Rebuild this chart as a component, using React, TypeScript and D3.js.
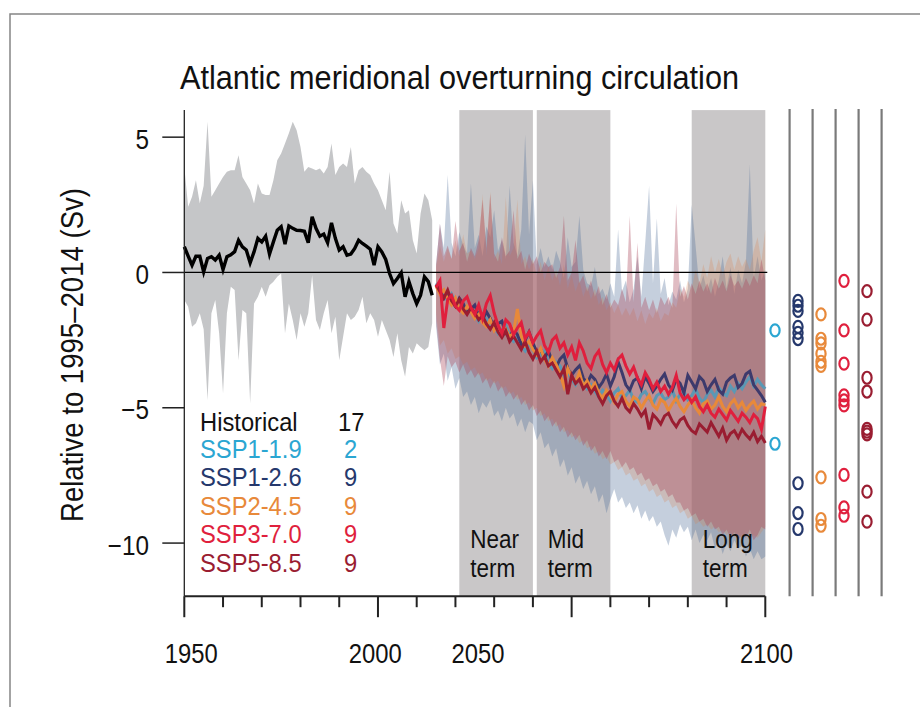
import React from 'react';
import * as d3 from 'd3';

// ---------- DATA ----------
const histStart = 1950;
const projStart = 2015;

const histMean = [
  0.95, 0.60, 0.27, 0.60, 0.60, 0.02, 0.52, 0.58, 0.46, 0.64,
  0.11, 0.58, 0.65, 0.77, 1.19, 0.95, 0.83, 0.36, 0.76, 1.26,
  1.13, 1.34, 0.68, 1.13, 1.56, 1.69, 1.05, 1.72, 1.63, 1.56,
  1.55, 1.52, 1.10, 2.06, 1.63, 1.34, 1.42, 1.10, 1.83, 1.26,
  0.83, 0.95, 0.64, 0.68, 0.89, 1.19, 1.07, 0.97, 0.86, 0.27,
  0.95, 0.76, 0.48, -0.04, -0.41, -0.22, -0.01, -0.90, -0.34, -0.78,
  -1.15, -0.84, -0.16, -0.34, -0.84,
];
const histUpper = [
  3.90, 2.43, 2.80, 3.41, 2.55, 3.20, 5.57, 2.80, 3.04, 3.29,
  3.53, 3.72, 3.78, 3.78, 4.33, 3.53, 3.29, 3.04, 2.55, 3.29,
  2.92, 2.86, 2.86, 3.41, 4.15, 4.40, 4.77, 5.14, 5.57, 5.26,
  4.64, 3.72, 3.90, 3.84, 3.78, 3.84, 3.66, 3.90, 4.77, 3.60,
  3.90, 4.03, 3.90, 4.64, 3.29, 3.78, 3.90, 3.72, 3.60, 3.29,
  3.04, 2.67, 2.30, 3.72, 1.81, 1.44, 2.67, 2.18, 2.30, 1.19,
  0.70, 2.18, 2.92, 2.67, 1.93,
];
const histLower = [
  -1.02, -1.27, -2.01, -1.88, -1.51, -2.10, -4.72, -1.51, -1.02, -2.25,
  -4.47, -1.51, -0.53, -0.65, -3.24, -1.39, -1.51, -4.84, -1.15, -0.90,
  -0.53, -0.90, -0.47, -0.34, -0.16, -0.04, -2.25, -1.15, -1.76, -2.50,
  -1.51, -2.01, -1.51, -0.10, -1.76, -2.13, -1.51, -1.02, -2.25, -1.64,
  -3.24, -2.38, -1.51, -1.76, -1.64, -1.39, -0.90, -1.88, -1.51, -1.76,
  -2.38, -1.76, -2.13, -2.50, -3.12, -2.25, -3.24, -3.85, -2.75, -2.99,
  -2.62, -2.75, -2.87, -2.75, -1.88,
];

const ssp119 = [
  -0.40, -0.55, -0.85, -1.05, -0.80, -1.10, -1.30, -1.20, -1.45, -1.30,
  -1.55, -1.80, -1.60, -1.70, -2.05, -1.95, -2.25, -2.10, -1.95, -2.40,
  -2.55, -2.35, -2.70, -2.90, -2.65, -2.85, -3.15, -3.05, -2.90, -3.35,
  -3.55, -3.30, -3.45, -3.80, -3.65, -3.95, -4.15, -3.85, -4.05, -4.30,
  -4.15, -4.40, -4.60, -4.35, -4.50, -4.75, -4.45, -4.30, -4.65, -4.55,
  -4.35, -4.70, -4.80, -4.50, -4.40, -4.65, -4.85, -4.55, -4.45, -4.70,
  -4.60, -4.35, -4.75, -4.50, -4.40, -4.70, -4.55, -4.30, -4.65, -4.80,
  -4.50, -4.35, -4.60, -4.25, -4.45, -4.55, -4.20, -4.40, -4.10, -4.30,
  -4.05, -3.85, -4.20, -3.95, -4.15, -4.30,
];
const ssp126 = [
  -0.45, -0.70, -0.95, -0.75, -1.05, -1.25, -0.95, -1.15, -1.50, -1.35,
  -1.20, -1.60, -1.75, -1.45, -1.70, -2.05, -1.90, -1.80, -2.25, -2.40,
  -2.10, -2.30, -2.65, -2.50, -2.20, -2.60, -2.95, -2.85, -3.15, -2.90,
  -3.30, -3.50, -3.20, -3.05, -3.55, -3.80, -3.60, -3.45, -3.90, -4.10,
  -3.80, -3.95, -4.25, -4.05, -3.75, -4.20, -3.85, -3.30, -3.70, -4.15,
  -4.35, -4.00, -3.90, -4.30, -3.85, -4.10, -4.40, -4.20, -3.95, -3.75,
  -4.15, -4.35, -3.95, -4.10, -4.45, -3.80, -4.05, -4.30, -3.85, -4.00,
  -4.40, -4.15, -3.95, -4.35, -4.50, -4.05, -3.90, -3.80, -4.25, -4.10,
  -3.75, -3.65, -4.15, -4.35, -4.55, -4.80,
];
const ssp245 = [
  -0.50, -0.80, -0.65, -1.00, -1.20, -0.95, -1.35, -1.50, -1.25, -1.45,
  -1.70, -1.55, -1.85, -2.00, -1.75, -2.15, -1.95, -2.30, -2.10, -2.40,
  -2.20, -1.35, -2.35, -2.70, -2.55, -2.85, -3.05, -2.80, -3.20, -3.45,
  -3.15, -3.40, -3.75, -4.20, -3.55, -3.85, -4.05, -3.70, -4.20, -4.00,
  -4.30, -4.10, -4.45, -4.65, -4.35, -4.55, -4.80, -4.50, -4.40, -4.75,
  -4.95, -4.60, -4.70, -5.00, -4.75, -4.55, -4.90, -5.05, -4.70, -4.80,
  -5.10, -4.85, -4.65, -4.95, -5.15, -4.90, -4.70, -5.00, -5.20, -4.85,
  -4.75, -5.05, -4.90, -4.60, -4.95, -5.15, -4.85, -4.70, -5.00, -4.80,
  -5.10, -4.90, -4.75, -5.05, -4.85, -4.90,
];
const ssp370 = [
  -0.55, -0.30, -2.05, -1.00, -0.85, -1.25, -1.40, -1.05, -0.90, -1.30,
  -1.55, -1.20, -1.70, -1.15, -0.85, -1.50, -1.95, -2.25, -1.75, -1.90,
  -2.30, -2.05, -1.85, -2.45, -2.20, -2.60, -2.35, -2.15, -2.70, -2.95,
  -2.50, -2.35, -2.80, -2.60, -3.05, -2.75, -3.25, -2.60, -2.90, -3.35,
  -3.55, -3.10, -2.90, -3.40, -3.70, -3.35, -3.60, -3.20, -3.05, -3.45,
  -3.75, -3.50, -3.90, -4.15, -3.70, -3.95, -4.30, -4.05, -4.40, -4.20,
  -4.50, -4.25, -3.80, -4.45, -4.70, -4.55, -4.80, -4.60, -4.95, -5.15,
  -4.90, -5.20, -5.35, -5.05, -5.25, -5.45, -5.10, -5.30, -5.50, -5.20,
  -5.35, -5.55, -5.25, -5.40, -5.80, -4.95,
];
const ssp585 = [
  -0.45, -0.70, -0.95, -0.65, -1.05, -1.25, -1.00, -1.35, -1.55, -1.30,
  -1.50, -1.75, -1.60, -1.90, -2.10, -1.85, -2.20, -2.40, -2.15, -2.55,
  -2.35, -2.60, -2.85, -2.55, -2.95, -3.20, -2.90, -3.30, -3.10, -3.45,
  -3.35, -3.60, -3.85, -3.55, -4.50, -3.80, -4.10, -3.95, -4.30, -4.15,
  -4.45, -4.25, -4.60, -4.85, -4.55, -4.40, -4.75, -4.95, -4.65, -5.00,
  -5.15, -4.85, -5.05, -5.30, -5.10, -5.80, -5.25, -5.40, -5.60, -5.30,
  -5.20, -5.50, -5.70, -5.45, -5.35, -5.65, -5.85, -5.95, -5.60, -5.75,
  -5.90, -5.55, -5.80, -6.05, -5.75, -6.20, -5.95, -5.85, -6.10, -5.80,
  -6.00, -6.15, -5.90, -6.25, -6.05, -6.30,
];

const blueUpper = [
  0.3, 1.8, 0.9, 3.6, 1.1, 0.6, 1.5, 1.0, 0.7, 3.3,
  0.9, 1.4, 0.6, 1.7, 1.3, 2.3, 0.8, 1.2, 0.5, 3.2,
  1.1, 0.6, 1.6, 5.1, 1.4, 3.4, 0.3, 0.9, 0.2, 0.6,
  0.1, 0.8, 0.4, -0.2, 1.3, 0.2, 0.4, 2.1, 0.1, -0.4,
  -0.5, 0.2, -0.8, -0.6, -1.0, -0.4, -0.9, 1.6, -0.7, -0.3,
  -1.1, -0.6, 0.6, -0.9, 1.1, 3.2, -0.4, 2.0, -0.8, -0.2,
  -1.2, -0.7, -1.0, -0.3, -1.1, -0.6, 2.5, 1.0, -0.6, -0.1,
  -0.7, -0.2, -0.9, -0.3, 0.6, -0.6, 0.2, -0.8, 0.1, -0.4,
  0.4, 4.0, -0.2, 0.6, -0.3, 0.1,
];
const blueLower = [
  -2.0, -3.4, -3.0, -4.0, -3.5, -4.3, -3.9, -4.6, -4.4, -4.9,
  -4.6, -5.2, -4.8, -5.0, -4.7, -5.3, -5.1, -5.5, -5.0, -5.4,
  -5.2, -5.7, -5.4, -5.9, -5.5, -5.6, -6.2, -5.9, -6.5, -6.3,
  -6.8, -6.5, -7.2, -6.9, -7.5, -7.2, -7.8, -7.5, -8.0, -7.7,
  -8.2, -7.9, -8.5, -8.2, -8.9, -8.4, -8.0, -8.5, -8.3, -8.7,
  -8.5, -8.9, -8.6, -9.1, -8.8, -9.2, -9.0, -9.4, -9.2, -9.7,
  -10.1, -9.5, -9.8, -9.3, -9.6, -9.4, -9.9, -9.5, -10.0, -9.7,
  -9.9, -9.6, -10.2, -9.9, -10.4, -10.0, -10.3, -9.9, -10.2, -10.1,
  -10.5, -10.2, -10.6, -10.3, -10.6, -10.5,
];
const orangeUpper = [
  0.2, 1.0, 0.4, 0.9, 0.5, 1.2, 0.6, 1.4, 0.7, 0.8,
  0.5, 0.9, 2.9, 0.6, 3.0, 0.5, 0.8, 0.3, 2.8, 0.6,
  0.9, 2.7, 0.3, 0.6, 0.1, 0.5, -0.1, 0.4, -0.3, 0.2,
  -0.3, 0.1, -0.5, 0.3, -0.6, -0.1, -0.7, -0.3, -0.9, -0.5,
  -1.0, -0.6, -1.2, -0.9, -1.4, -1.1, -1.5, -1.2, -1.6, -1.3,
  -1.6, -1.3, -1.8, -1.4, -1.9, -1.5, -1.7, -1.3, -1.8, -1.5,
  -1.6, -1.1, -1.3, -0.6, -0.9, -0.3, -0.6, 0.1, -0.4, 0.3,
  -0.2, 0.6, 0.0, 0.5, -0.1, 0.4, 0.7, 0.1, 0.6, 0.2,
  0.5, 0.1, 0.8, 1.3, 0.4, 1.6,
];
const orangeLower = [
  -1.5, -2.7, -2.5, -3.0, -2.8, -3.2, -3.1, -3.4, -3.3, -3.6,
  -3.5, -3.8, -3.7, -4.0, -3.9, -4.1, -4.0, -4.3, -4.2, -4.5,
  -4.4, -4.7, -4.6, -4.9, -4.8, -5.1, -5.0, -5.3, -5.2, -5.5,
  -5.4, -5.7, -5.6, -5.9, -5.8, -6.1, -6.0, -6.3, -6.2, -6.5,
  -6.4, -6.7, -6.6, -6.9, -6.8, -7.1, -7.0, -7.3, -7.2, -7.5,
  -7.4, -7.7, -7.6, -7.9, -7.8, -8.1, -8.0, -8.3, -8.2, -8.5,
  -8.4, -8.7, -8.6, -8.9, -8.8, -9.1, -9.0, -9.3, -9.2, -9.4,
  -9.3, -9.5, -9.4, -9.6, -9.5, -9.7, -9.6, -9.8, -9.7, -9.8,
  -9.6, -9.8, -9.7, -9.8, -9.6, -9.4,
];
const pinkUpper = [
  0.3, 1.8, 0.6, 1.0, 0.5, 1.9, 0.8, 1.1, 0.4, 0.9,
  0.6, 1.2, 2.7, 0.9, 2.9, 0.7, 0.4, 1.3, 0.6, 0.8,
  2.3, 0.5, 0.8, 0.1, 0.7, 0.3, 0.6, 0.0, 0.4, 0.2,
  0.3, -0.2, 0.2, 2.1, -0.3, 0.0, 1.2, -0.4, -0.1, -0.7,
  -0.3, -0.9, -0.5, -1.2, -0.8, -1.3, -1.0, -1.2, -0.6, -1.1,
  2.1, -1.1, 1.1, -1.3, -0.9, -1.4, -1.0, -1.5, -0.9, -1.2,
  -0.9, -1.3, 2.55, -0.9, -0.5, -1.0, -0.4, -0.8, -0.3, -0.7,
  -0.4, -0.8, -0.2, -0.6, -0.3, -0.7, -0.1, -0.5, -0.3, -0.6,
  -0.2, -0.5, -0.1, -0.4, 0.5, -0.3,
];
const pinkLower = [
  -1.8, -3.2, -4.2, -3.1, -3.5, -3.3, -3.7, -3.4, -3.8, -3.6,
  -3.9, -3.7, -4.1, -3.9, -4.3, -4.0, -4.4, -4.2, -4.6, -4.4,
  -4.7, -4.5, -4.9, -4.7, -5.1, -4.9, -5.3, -5.1, -5.5, -5.3,
  -5.7, -5.5, -5.9, -5.7, -6.1, -5.9, -6.2, -6.0, -6.4, -6.2,
  -6.6, -6.4, -6.8, -6.6, -6.9, -6.6, -7.0, -6.9, -7.2, -7.0,
  -7.3, -7.2, -7.5, -7.4, -7.7, -7.6, -7.9, -7.8, -8.1, -8.0,
  -8.3, -8.2, -8.5, -8.5, -8.8, -8.7, -9.0, -8.9, -9.2, -9.1,
  -9.4, -9.2, -9.5, -9.4, -9.7, -9.5, -9.8, -9.6, -9.9, -9.7,
  -9.8, -9.5, -9.9, -9.7, -9.4, -9.5,
];

// 2081-2100 mean change of individual models (right-hand columns)
const dots119 = [-2.14, -6.33];
const dots126 = [-1.05, -1.23, -1.42, -2.01, -2.23, -2.46, -7.79, -8.89, -9.48];
const dots245 = [-1.55, -2.45, -2.62, -3.00, -3.30, -3.45, -7.57, -9.11, -9.36];
const dots370 = [-0.31, -2.14, -3.37, -4.54, -4.73, -4.91, -7.48, -8.68, -8.99];
const dots585 = [-0.69, -1.74, -3.89, -4.40, -5.78, -5.88, -5.98, -8.10, -9.21];

const scenarioNames = ['SSP1-1.9', 'SSP1-2.6', 'SSP2-4.5', 'SSP3-7.0', 'SSP5-8.5'];
const scenarioModels = [2, 9, 9, 9, 9];
const scenarioColors = ['#2ba6d2', '#25386c', '#e8893a', '#e01f3d', '#9a1d31'];
const histModels = 17;

const periods = [
  { name: ['Near', 'term'], start: 2021, end: 2040 },
  { name: ['Mid', 'term'], start: 2041, end: 2060 },
  { name: ['Long', 'term'], start: 2081, end: 2100 },
];

const yTicks = [5, 0, -5, -10];
const xMajor = [1950, 2000, 2050, 2100];
const xLabelText = ['1950', '2000', '2050', '2100'];
const xLabelAt = [1951.8, 1999.3, 2025.8, 2100.3];

// ---------- CHART ----------
const FONT = 'Liberation Sans, Arial, Helvetica, sans-serif';

type CTProps = {
  x: number; y: number; size: number; sx?: number; anchor?: string; fill?: string;
  children: React.ReactNode;
};
function CText({ x, y, size, sx = 0.9, anchor = 'start', fill = '#111', children }: CTProps) {
  return (
    <text transform={`translate(${x},${y}) scale(${sx},1)`} fontSize={size} textAnchor={anchor} fill={fill}>
      {children}
    </text>
  );
}

export default function App() {
  const x = d3.scaleLinear().domain([1950, 2100]).range([184.3, 765.3]);
  const y = d3.scaleLinear().domain([-12, 6]).range([597.2, 110.1]);
  const col = d3.scalePoint<string>().domain(scenarioNames).range([775, 867]);

  const histYears = histMean.map((_, i) => histStart + i);
  const projYears = ssp126.map((_, i) => projStart + i);

  const band = (yrs: number[], lo: number[], hi: number[]) =>
    d3.area<number>()
      .x((_, i) => x(yrs[i]))
      .y0((_, i) => y(lo[i]))
      .y1((_, i) => y(hi[i]))(lo) || '';
  const line = (yrs: number[], v: number[]) =>
    d3.line<number>().x((_, i) => x(yrs[i])).y((d) => y(d))(v) || '';

  const projSeries = [ssp119, ssp126, ssp245, ssp370, ssp585];
  const dots = [dots119, dots126, dots245, dots370, dots585];
  const lineOrder = [0, 1, 2, 4, 3];
  const lineColors = ['#5b98b4', '#3d3a6c', '#e8893a', '#e01f3d', '#9a1d31'];

  const xTicks = d3.range(1950, 2101, 10);
  const axisY = y(-12) - 1;
  const top = y(6);

  return (
    <svg width={920} height={707} style={{ position: 'absolute', left: 0, top: 0, background: '#fff' }}
      fontFamily={FONT}>
      {/* frame */}
      <path d="M10,707 L10,14 L920,14" fill="none" stroke="#858585" strokeWidth={1.5} />

      {/* title */}
      <text x={180} y={89} fontSize={33} textLength={559} lengthAdjust="spacingAndGlyphs" fill="#111">
        Atlantic meridional overturning circulation
      </text>

      {/* time periods */}
      {periods.map((p) => (
        <rect key={p.start} x={x(p.start)} y={top} width={x(p.end) - x(p.start)} height={axisY - top}
          fill="#c9c7c8" />
      ))}

      {/* historical envelope */}
      <path d={band(histYears, histLower, histUpper)} fill="#c5c6c8" />

      {/* projection envelopes */}
      <path d={band(projYears, blueLower, blueUpper)} fill="#56739c" fillOpacity={0.34} />
      <path d={band(projYears, orangeLower, orangeUpper)} fill="#d98450" fillOpacity={0.26} />
      <path d={band(projYears, pinkLower, pinkUpper)} fill="#a8455a" fillOpacity={0.36} />

      {/* zero line */}
      <line x1={x(1950)} x2={x(2100) + 2} y1={y(0)} y2={y(0)} stroke="#000" strokeWidth={1.2} />

      {/* lines */}
      <path d={line(histYears, histMean)} fill="none" stroke="#000" strokeWidth={3.4} />
      {lineOrder.map((k) => (
        <path key={k} d={line(projYears, projSeries[k])} fill="none" stroke={lineColors[k]}
          strokeWidth={3} />
      ))}

      {/* period labels */}
      {periods.map((p) => (
        <g key={p.start}>
          <CText x={x(p.start) + 11} y={548} size={25} sx={0.9}>{p.name[0]}</CText>
          <CText x={x(p.start) + 11} y={577} size={25} sx={0.9}>{p.name[1]}</CText>
        </g>
      ))}

      {/* y axis */}
      <line x1={x(1950)} x2={x(1950)} y1={top} y2={axisY} stroke="#222" strokeWidth={1.3} />
      {yTicks.map((t) => (
        <g key={t}>
          <line x1={x(1950) - 22} x2={x(1950)} y1={y(t)} y2={y(t)} stroke="#222" strokeWidth={1.5} />
          <CText x={149} y={y(t) + 11.5} size={27} sx={0.9} anchor="end">
            {t < 0 ? '\u2212' + Math.abs(t) : String(t)}
          </CText>
        </g>
      ))}
      <text transform={`translate(83,355) rotate(-90)`} fontSize={31} textAnchor="middle"
        textLength={334} lengthAdjust="spacingAndGlyphs" fill="#111">
        Relative to 1995–2014 (Sv)
      </text>

      {/* x axis */}
      <line x1={x(1950)} x2={x(2100)} y1={axisY} y2={axisY} stroke="#222" strokeWidth={2} />
      {xTicks.map((t) => (
        <line key={t} x1={x(t)} x2={x(t)} y1={axisY} y2={axisY + (xMajor.includes(t) ? 21 : 11)}
          stroke="#222" strokeWidth={2} />
      ))}
      {xLabelText.map((s, i) => (
        <text key={s} x={x(xLabelAt[i])} y={663} fontSize={27} textAnchor="middle"
          textLength={53} lengthAdjust="spacingAndGlyphs" fill="#111">{s}</text>
      ))}

      {/* legend */}
      <CText x={200} y={431} size={25} sx={0.95}>Historical</CText>
      <CText x={338} y={431} size={25} sx={0.95}>{histModels}</CText>
      {scenarioNames.map((s, i) => (
        <g key={s}>
          <CText x={200} y={457.5 + i * 28.5} size={25} sx={0.95} fill={scenarioColors[i]}>{s}</CText>
          <CText x={344} y={457.5 + i * 28.5} size={25} sx={0.95} fill={scenarioColors[i]}>{scenarioModels[i]}</CText>
        </g>
      ))}

      {/* right-hand model columns */}
      {scenarioNames.map((s) => (
        <line key={s} x1={(col(s) || 0) + 14.6} x2={(col(s) || 0) + 14.6} y1={top - 1} y2={axisY}
          stroke="#7a7a7a" strokeWidth={2.2} />
      ))}
      {scenarioNames.map((s, i) =>
        dots[i].map((v, j) => (
          <ellipse key={s + j} cx={col(s)} cy={y(v)} rx={4.6} ry={6} fill="none"
            stroke={scenarioColors[i]} strokeWidth={2.2} />
        ))
      )}
    </svg>
  );
}
